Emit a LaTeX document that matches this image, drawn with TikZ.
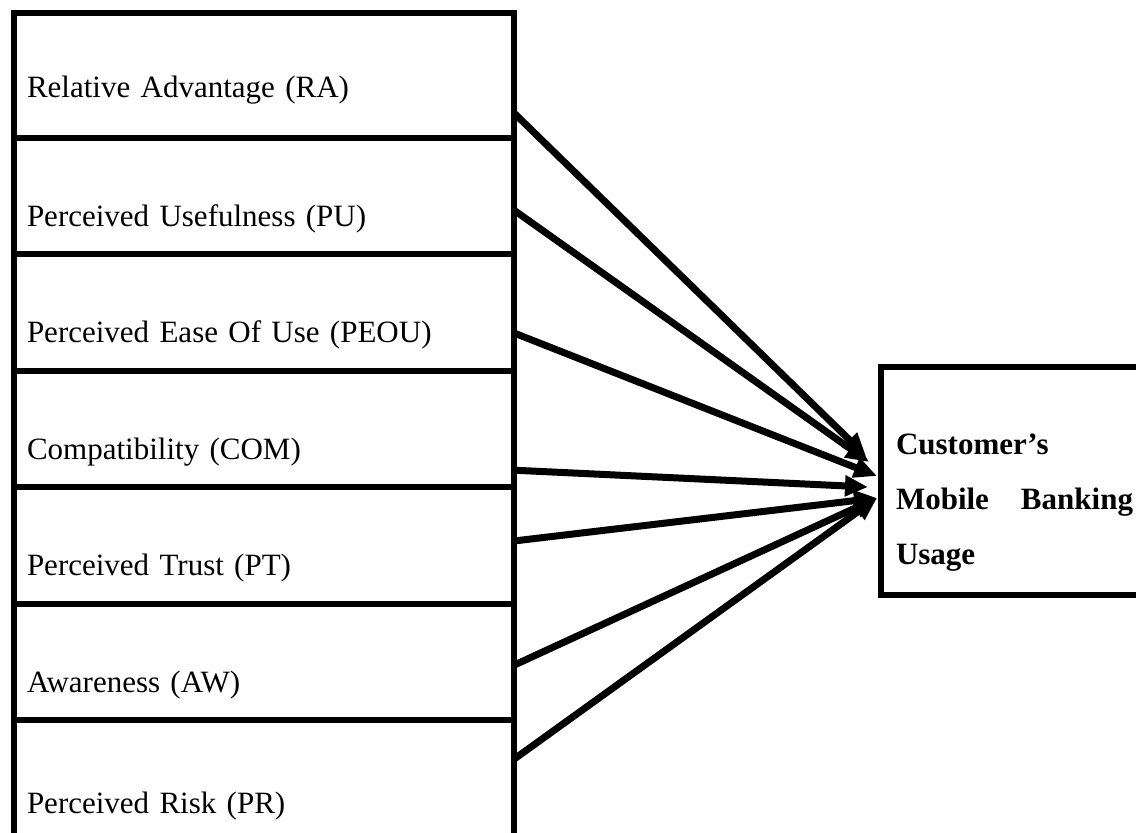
\documentclass[tikz,border=0pt]{standalone}
\usepackage{fontspec}
\setmainfont{Liberation Serif}
\usepackage{tikz}
\usetikzlibrary{positioning,arrows.meta}
\tikzstyle{factor}=[rectangle,line width=3pt,draw=black,inner xsep=6.7pt,
inner ysep=0pt,outer sep=0pt,text width=236.8pt,align=left,
text height=44.25pt,text depth=14pt,font=\fontsize{15.5}{18}\selectfont]
\tikzstyle{outcome}=[rectangle,line width=3pt,draw=black,inner xsep=7.5pt,
inner ysep=0pt,outer sep=0pt,text width=118.5pt,align=left,
text height=44pt,text depth=70pt,font=\fontsize{15.5}{27.5}\selectfont\bfseries]

\begin{document}
\begin{tikzpicture}[x=0.5pt,y=-0.5pt,>={Triangle[length=11.5pt,width=10pt]}]
    \useasboundingbox (0,0) rectangle (1136,833);
    \clip (0,0) rectangle (1136,833);
    % Left column: the factors, stacked one under the other
    \node (ra) [factor,anchor=north west,text height=42.25pt,text depth=19.85pt]
      at (13.6,13.5) {Relative Advantage (RA)};
    \node (pu)   [factor,below=0pt of ra]   {Perceived Usefulness (PU)};
    \node (peou) [factor,below=0pt of pu]   {Perceived Ease Of Use (PEOU)};
    \node (com)  [factor,below=0pt of peou] {Compatibility (COM)};
    \node (pt)   [factor,below=0pt of com]  {Perceived Trust (PT)};
    \node (aw)   [factor,below=0pt of pt]   {Awareness (AW)};
    \node (pr)   [factor,below=0pt of aw,text height=46.5pt,text depth=40pt]
      {Perceived Risk (PR)};
    % Right side: the usage box
    \node (usage) [outcome,anchor=north west] at (881,367)
      {Customer’s\\Mobile\hfill Banking\\Usage};
    % Every factor points to the usage box:
    \path[->,line width=3.5pt]
    ([yshift=12.35pt]ra.south east)   edge ([shift={(-7.5pt,12.5pt)}]usage.west)
    ([yshift=22pt]pu.south east)      edge ([shift={(-6pt,9.5pt)}]usage.west)
    ([yshift=18.85pt]peou.south east) edge ([shift={(-2pt,2.5pt)}]usage.west)
    ([yshift=8.5pt]com.south east)    edge ([shift={(-6.5pt,-3pt)}]usage.west)
    ([yshift=31.35pt]pt.south east)   edge ([shift={(-2pt,-8.5pt)}]usage.west)
    ([yshift=27.5pt]aw.south east)    edge ([shift={(-2pt,-8.5pt)}]usage.west)
    ([yshift=-19.5pt]pr.north east)   edge ([shift={(-2pt,-8.5pt)}]usage.west)
    ;
\end{tikzpicture}
\end{document}
